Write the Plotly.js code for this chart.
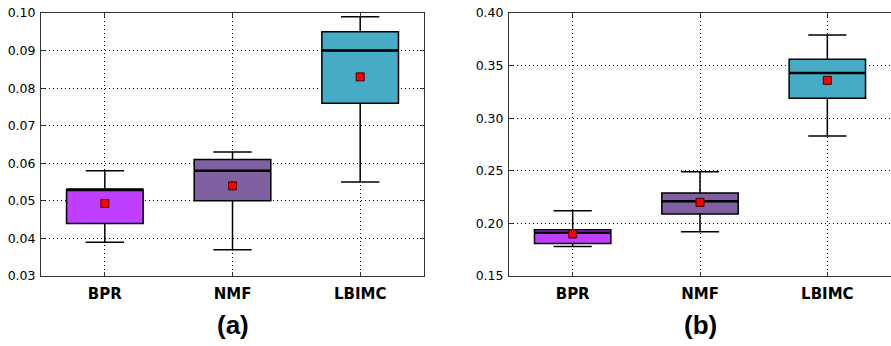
<!DOCTYPE html>
<html>
<head>
<meta charset="utf-8">
<script src="https://cdn.plot.ly/plotly-3.0.1.min.js"></script>
<style>html,body{margin:0;padding:0;background:#fff;}#chart{width:891px;height:346px;}</style>
</head>
<body>
<div id="chart"></div>
<script>
const categories = ["BPR", "NMF", "LBIMC"];
const colors = ["#bf3eff", "#7f60a0", "#46abc5"];

// Panel (a)
const aLower  = [0.039, 0.037, 0.055];
const aQ1     = [0.044, 0.050, 0.076];
const aMedian = [0.053, 0.058, 0.090];
const aQ3     = [0.053, 0.061, 0.095];
const aUpper  = [0.058, 0.063, 0.099];
const aMean   = [0.0493, 0.054, 0.083];

// Panel (b)
const bLower  = [0.178, 0.192, 0.283];
const bQ1     = [0.181, 0.209, 0.319];
const bMedian = [0.191, 0.221, 0.343];
const bQ3     = [0.194, 0.229, 0.356];
const bUpper  = [0.212, 0.249, 0.379];
const bMean   = [0.190, 0.220, 0.336];

const boxWidth = 0.6;
const traces = [];

function addPanel(lower, q1, med, q3, upper, mean, xa, ya) {
  categories.forEach((c, i) => {
    traces.push({
      type: "box", x: [i], q1: [q1[i]], median: [med[i]], q3: [q3[i]],
      lowerfence: [lower[i]], upperfence: [upper[i]],
      width: boxWidth, whiskerwidth: 0.5,
      fillcolor: colors[i], line: {color: "#000", width: 1.5},
      xaxis: xa, yaxis: ya, showlegend: false, hoverinfo: "skip", boxpoints: false
    });
    traces.push({
      type: "scatter", mode: "lines",
      x: [i - boxWidth / 2, i + boxWidth / 2], y: [med[i], med[i]],
      line: {color: "#000", width: 2.5},
      xaxis: xa, yaxis: ya, showlegend: false, hoverinfo: "skip"
    });
  });
  traces.push({
    type: "scatter", mode: "markers",
    x: categories.map((c, i) => i), y: mean,
    marker: {symbol: "square", size: 8, color: "#ff0000", line: {color: "#400", width: 1}},
    xaxis: xa, yaxis: ya, showlegend: false, hoverinfo: "skip"
  });
}
addPanel(aLower, aQ1, aMedian, aQ3, aUpper, aMean, "x", "y");
addPanel(bLower, bQ1, bMedian, bQ3, bUpper, bMean, "x2", "y2");

const gridCommon = {
  showgrid: true, gridcolor: "#000", gridwidth: 1, griddash: "1px,3px",
  showline: true, linecolor: "#333", linewidth: 1,
  ticks: "inside", ticklen: 4, tickcolor: "#333", zeroline: false
};
const xCommon = Object.assign({}, gridCommon, {
  range: [-0.5, 2.5], tickvals: [0, 1, 2], ticktext: categories,
  tickfont: {family: "DejaVu Sans", size: 15, color: "#000", weight: "bold"},
  ticklabelstandoff: 4, mirror: "ticks", fixedrange: true
});
const yFont = {family: "DejaVu Sans", size: 12.5, color: "#000"};

const layout = {
  width: 891, height: 346,
  margin: {l: 41, r: 0, t: 13, b: 70},
  paper_bgcolor: "#fff", plot_bgcolor: "#fff",
  boxmode: "overlay", showlegend: false,
  xaxis: Object.assign({}, xCommon, {domain: [0, 0.4506], anchor: "y"}),
  xaxis2: Object.assign({}, xCommon, {domain: [0.5506, 1], anchor: "y2"}),
  yaxis: Object.assign({}, gridCommon, {range: [0.03, 0.10], dtick: 0.01, tick0: 0, tickformat: ".2f",
    tickfont: yFont, mirror: "ticks", anchor: "x", ticklabelstandoff: 2}),
  yaxis2: Object.assign({}, gridCommon, {range: [0.15, 0.40], dtick: 0.05, tick0: 0, tickformat: ".2f",
    tickfont: yFont, mirror: false, anchor: "x2", ticklabelstandoff: 2}),
  annotations: [
    {text: "(a)", xref: "paper", yref: "paper", x: 0.2253, y: -0.188, xanchor: "center", yanchor: "middle",
     showarrow: false, font: {family: "Liberation Sans", size: 26, color: "#000", weight: "bold"}},
    {text: "(b)", xref: "paper", yref: "paper", x: 0.7753, y: -0.188, xanchor: "center", yanchor: "middle",
     showarrow: false, font: {family: "Liberation Sans", size: 26, color: "#000", weight: "bold"}}
  ]
};

Plotly.newPlot("chart", traces, layout, {staticPlot: true, displayModeBar: false});
</script>
</body>
</html>
